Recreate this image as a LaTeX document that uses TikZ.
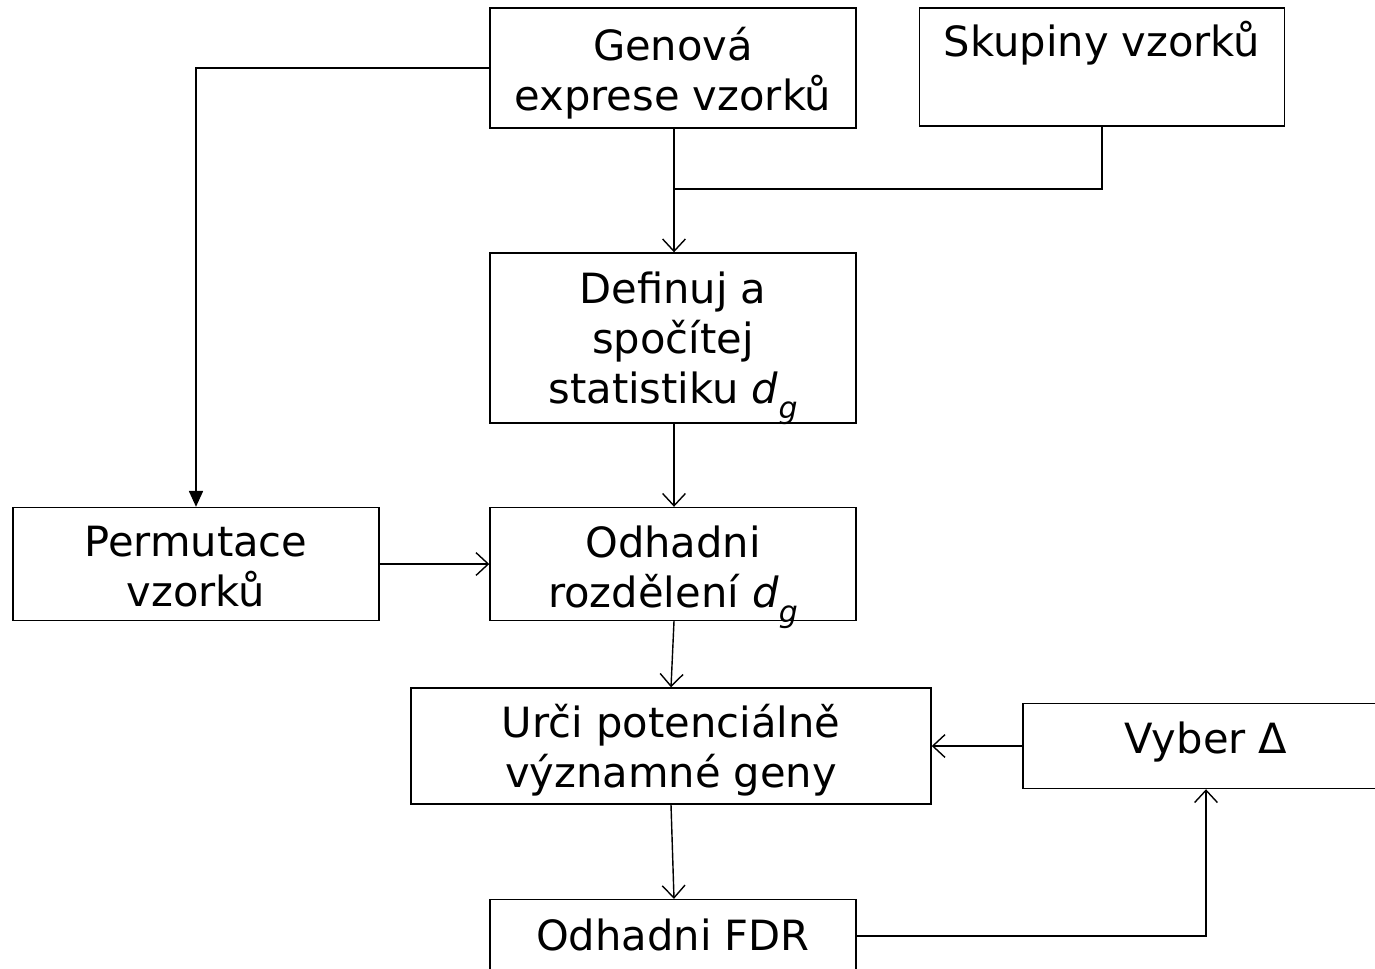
\documentclass[tikz,border=0pt]{standalone}
\usepackage{fontspec}
\setmainfont{DejaVu Sans}
\usepackage{tikz}
\usetikzlibrary{arrows.meta,positioning}

\newcommand{\dsub}{\textit{d}\raisebox{-0.35em}{\fontsize{17}{17}\selectfont\textit{g}}}

\tikzset{
  krok/.style={draw, line width=0.8pt, inner sep=0pt},
  popis/.style={align=center, inner sep=0pt, font=\fontsize{23.7}{28.5}\selectfont},
  sipka/.style={line width=0.8pt, -{Straight Barb[length=7pt,width=13pt]}},
  plna/.style={line width=0.8pt, -{Triangle[length=9pt,width=8pt]}}
}

\begin{document}
\begin{tikzpicture}[x=0.02cm,y=-0.02cm]
        \useasboundingbox (0,0) rectangle (1375,968);
        % boxes
        \node[krok, minimum width=366*0.02cm, minimum height=120*0.02cm] (gen) at (673,68) {};
        \node[krok, minimum width=365*0.02cm, minimum height=118*0.02cm] (skup) at (1102,67) {};
        \node[krok, minimum width=366*0.02cm, minimum height=170*0.02cm] (def) at (673,338) {};
        \node[krok, minimum width=366*0.02cm, minimum height=113*0.02cm] (perm) at (196,564) {};
        \node[krok, minimum width=366*0.02cm, minimum height=113*0.02cm] (odh) at (673,564) {};
        \node[krok, minimum width=520*0.02cm, minimum height=116*0.02cm] (urci) at (671,746) {};
        \node[krok, minimum width=366*0.02cm, minimum height=85*0.02cm] (vyber) at (1206,746) {};
        \node[krok, minimum width=366*0.02cm, minimum height=113*0.02cm] (fdr) at (673,956) {};

        % texts
        \node[popis] (genT) at (673,73) {Genová\\exprese vzorků};
        \node[popis] (skupT) at (1102,43) {Skupiny vzorků};
        \node[popis] (defT) at (673,348) {Definuj a\\spočítej\\statistiku \dsub};
        \node[popis] (permT) at (196,567) {Permutace\\vzorků};
        \node[popis] (odhT) at (673,577) {Odhadni\\rozdělení \dsub};
        \node[popis] (urciT) at (671,750) {Urči potenciálně\\významné geny};
        \node[popis] (vyberT) at (1206,742) {Vyber Δ};
        \node[popis] (fdrT) at (673,935) {Odhadni FDR};

        \coordinate (roh) at (196,68);
        \coordinate (spoj) at (674,189);
        \coordinate (dole) at (1206,936);

        \draw[plna] (gen.west |- roh) -- (roh) -- (perm.north);
        \draw[sipka] (gen.south -| spoj) -- (def.north -| spoj);
        \draw[line width=0.8pt] (skup.south) |- (spoj);
        \draw[sipka] (def.south -| spoj) -- (odh.north -| spoj);
        \draw[sipka] (perm.east) -- (odh.west);
        \draw[sipka] (odh.south -| spoj) -- (urci.north);
        \draw[sipka] (urci.south) -- (fdr.north -| spoj);
        \draw[sipka] (vyber.west) -- (urci.east);
        \draw[sipka] (fdr.east |- dole) -- (dole) -- (vyber.south);
    \end{tikzpicture}
\end{document}
